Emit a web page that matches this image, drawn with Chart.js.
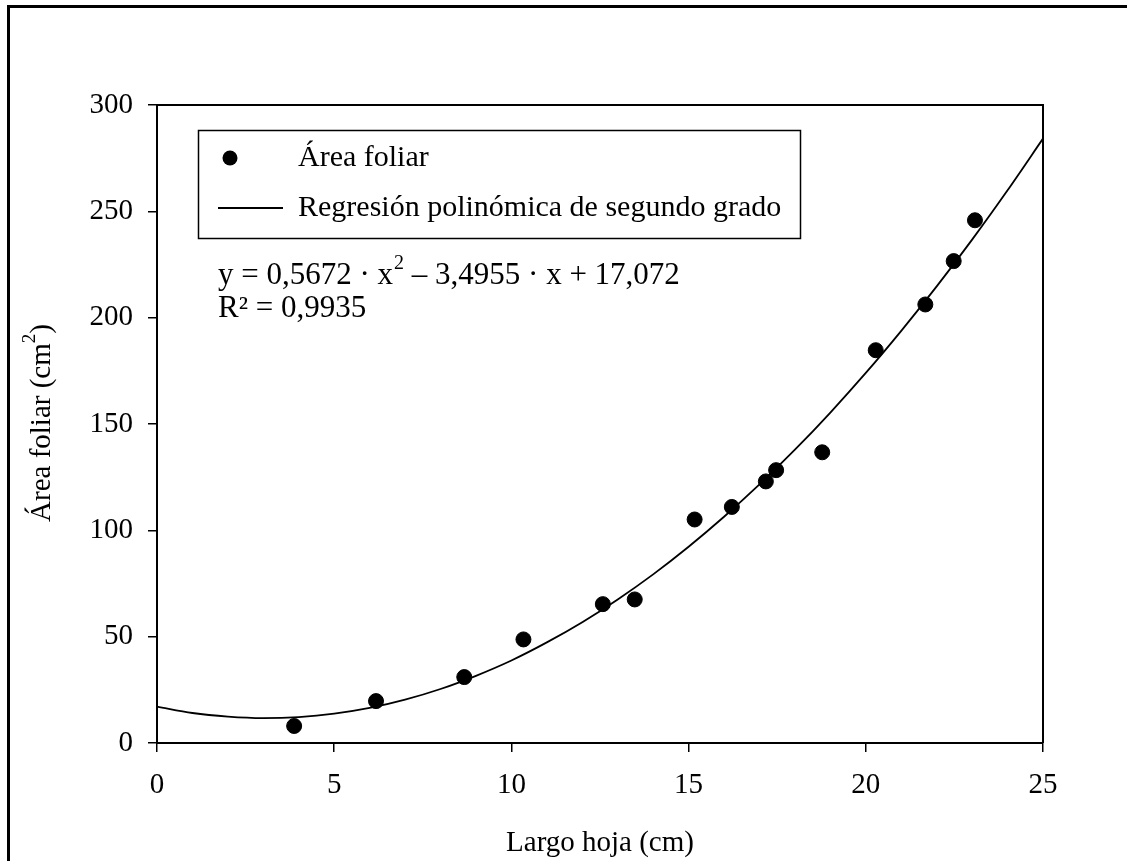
<!DOCTYPE html>
<html lang="es">
<head>
  <meta charset="UTF-8" />
  <title>Área foliar vs largo hoja</title>
  <script src="https://cdn.jsdelivr.net/npm/chart.js"></script>
  <style>
    html, body { margin: 0; padding: 0; background: #fff; }
    #wrap { width: 1127px; height: 861px; position: relative; }
  </style>
</head>
<body>
  <div id="wrap"><canvas id="chart" width="1127" height="861"></canvas></div>
  <script>
    // measured points (largo hoja cm, área foliar cm2)
    const largo = [3.87, 6.18, 8.67, 10.34, 12.58, 13.48, 15.17, 16.22, 17.18, 17.47, 18.77, 20.28, 21.68, 22.48, 23.08];
    const area = [8.0, 19.7, 31.0, 48.7, 65.3, 67.5, 105.1, 111.0, 123.0, 128.3, 136.7, 184.7, 206.2, 226.6, 245.8];

    // regression curve at whole x values
    const curvaX = [0, 1, 2, 3, 4, 5, 6, 7, 8, 9, 10, 11, 12, 13, 14, 15, 16, 17, 18, 19, 20, 21, 22, 23, 24, 25];
    const curvaY = [17.1, 14.1, 12.4, 11.7, 12.2, 13.8, 16.5, 20.4, 25.4, 31.6, 38.8, 47.3, 56.8, 67.5, 79.3, 92.3,
                    106.4, 121.6, 137.9, 155.4, 174.0, 193.8, 214.7, 236.7, 259.9, 284.2];

    const xTicks = [0, 5, 10, 15, 20, 25];
    const yTicks = [0, 50, 100, 150, 200, 250, 300];

    const labelPuntos = 'Área foliar';
    const labelCurva = 'Regresión polinómica de segundo grado';
    const ecuacion = ['y = 0,5672 · x', '2', ' – 3,4955 · x + 17,072'];
    const r2 = 'R² = 0,9935';
    const tituloX = 'Largo hoja (cm)';
    const tituloY = ['Área foliar (cm', '2', ')'];

    const serif = "'Liberation Serif', 'Times New Roman', serif";

    const extras = {
      id: 'extras',
      afterDraw(chart) {
        const ctx = chart.ctx;
        const a = chart.chartArea;
        ctx.save();

        // outer frame
        ctx.strokeStyle = '#000';
        ctx.lineWidth = 3;
        ctx.beginPath();
        ctx.moveTo(8.5, 861);
        ctx.lineTo(8.5, 6.5);
        ctx.lineTo(1127, 6.5);
        ctx.stroke();

        // top and right plot border
        ctx.lineWidth = 2;
        ctx.beginPath();
        ctx.moveTo(a.left, a.top);
        ctx.lineTo(a.right, a.top);
        ctx.lineTo(a.right, a.bottom);
        ctx.stroke();

        // legend
        ctx.lineWidth = 1.5;
        ctx.strokeRect(198.5, 130.5, 602, 108);
        ctx.fillStyle = '#000';
        ctx.beginPath();
        ctx.arc(230, 158, 7.5, 0, Math.PI * 2);
        ctx.fill();
        ctx.lineWidth = 1.8;
        ctx.beginPath();
        ctx.moveTo(218, 208);
        ctx.lineTo(283, 208);
        ctx.stroke();

        ctx.font = '30px ' + serif;
        ctx.textBaseline = 'middle';
        ctx.textAlign = 'left';
        ctx.fillText(labelPuntos, 298, 158);
        ctx.fillText(labelCurva, 298, 208);

        // equation
        let x = 218;
        ctx.font = '31px ' + serif;
        ctx.fillText(ecuacion[0], x, 276);
        x += ctx.measureText(ecuacion[0]).width;
        ctx.font = '20px ' + serif;
        ctx.fillText(ecuacion[1], x + 1, 264);
        x += ctx.measureText(ecuacion[1]).width + 1;
        ctx.font = '31px ' + serif;
        ctx.fillText(ecuacion[2], x, 276);
        ctx.fillText(r2, 218, 309);

        // x title
        ctx.font = '29px ' + serif;
        ctx.textAlign = 'center';
        ctx.fillText(tituloX, (a.left + a.right) / 2, 843);

        // y title, rotated
        ctx.translate(42, 423);
        ctx.rotate(-Math.PI / 2);
        ctx.textAlign = 'left';
        ctx.font = '29px ' + serif;
        const w0 = ctx.measureText(tituloY[0]).width;
        ctx.font = '19px ' + serif;
        const w1 = ctx.measureText(tituloY[1]).width;
        ctx.font = '29px ' + serif;
        const w2 = ctx.measureText(tituloY[2]).width;
        let p = -(w0 + w1 + w2) / 2;
        ctx.fillText(tituloY[0], p, 0);
        p += w0;
        ctx.font = '19px ' + serif;
        ctx.fillText(tituloY[1], p, -12);
        p += w1;
        ctx.font = '29px ' + serif;
        ctx.fillText(tituloY[2], p, 0);

        ctx.restore();
      }
    };

    new Chart(document.getElementById('chart'), {
      type: 'scatter',
      data: {
        datasets: [
          {
            label: labelPuntos,
            data: largo.map((v, i) => ({ x: v, y: area[i] })),
            backgroundColor: '#000',
            borderColor: '#000',
            pointRadius: 7.5,
            pointHoverRadius: 7.5,
            order: 1
          },
          {
            label: labelCurva,
            type: 'line',
            data: curvaX.map((v, i) => ({ x: v, y: curvaY[i] })),
            borderColor: '#000',
            borderWidth: 1.8,
            pointRadius: 0,
            fill: false,
            cubicInterpolationMode: 'monotone',
            order: 2
          }
        ]
      },
      options: {
        responsive: false,
        animation: false,
        layout: { padding: { left: 0, right: 84, top: 105, bottom: 0 } },
        plugins: {
          legend: { display: false },
          tooltip: { enabled: false }
        },
        scales: {
          x: {
            type: 'linear',
            min: 0,
            max: 25,
            afterFit(s) { s.height = 118; },
            afterBuildTicks(s) { s.ticks = xTicks.map(v => ({ value: v })); },
            border: { display: true, color: '#000', width: 2 },
            grid: { drawOnChartArea: false, drawTicks: true, tickLength: 9, color: '#000', lineWidth: 1.5 },
            ticks: { color: '#000', padding: 16, maxRotation: 0, font: { family: serif, size: 29 } }
          },
          y: {
            type: 'linear',
            min: 0,
            max: 300,
            afterFit(s) { s.width = 157; },
            afterBuildTicks(s) { s.ticks = yTicks.map(v => ({ value: v })); },
            border: { display: true, color: '#000', width: 2 },
            grid: { drawOnChartArea: false, drawTicks: true, tickLength: 9, color: '#000', lineWidth: 1.5 },
            ticks: { color: '#000', padding: 15, font: { family: serif, size: 29 } }
          }
        }
      },
      plugins: [extras]
    });
  </script>
</body>
</html>
